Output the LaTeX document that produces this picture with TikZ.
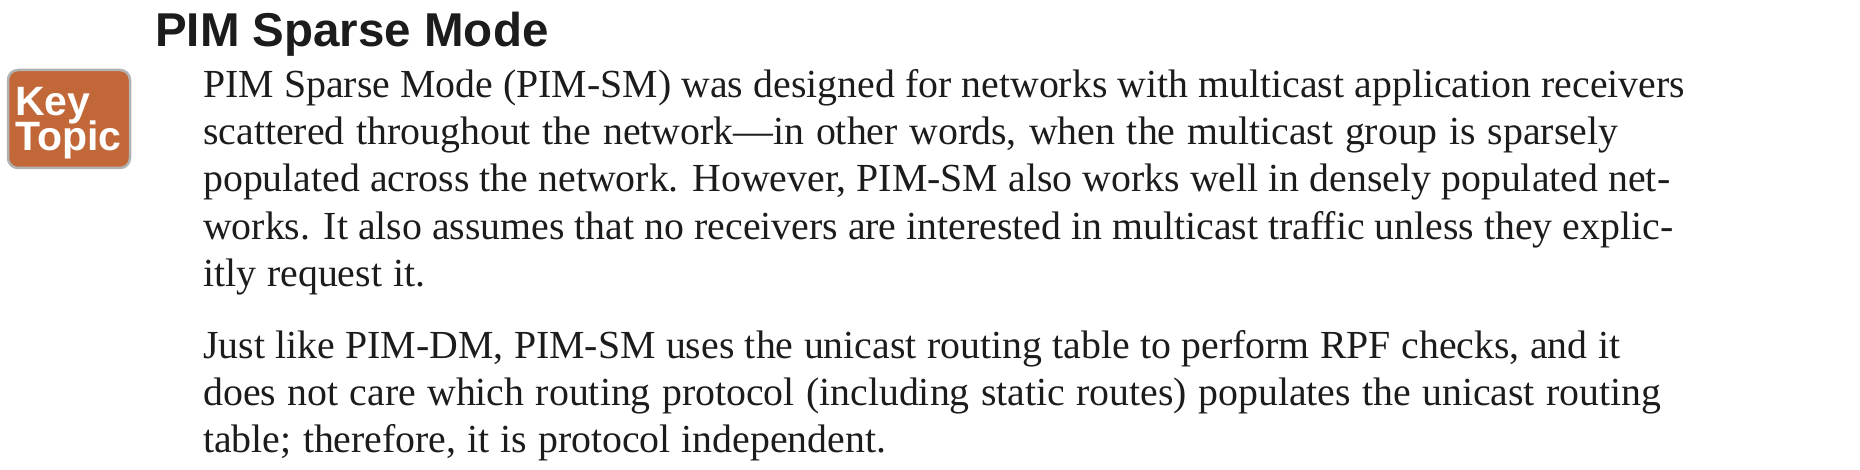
\documentclass[tikz,border=0pt]{standalone}
\usepackage{fontspec}
\setmainfont{Liberation Serif}
\newfontfamily\headfont{Liberation Sans}
\definecolor{keyfill}{RGB}{194,104,56}
\definecolor{inktext}{RGB}{28,28,28}
\newcommand{\fitline}[2]{\makebox[#1pt][s]{#2}}
\begin{document}
\begin{tikzpicture}[x=1pt,y=-1pt,
    line/.style={anchor=base west,inner sep=0pt,text=inktext,font=\fontsize{39.8}{44}\selectfont},
    badge/.style={draw=black!30,line width=2.5pt,rounded corners=10pt,fill=keyfill,minimum width=122pt,minimum height=98pt,inner sep=0pt},
    keyword/.style={anchor=base west,inner sep=0pt,text=white,font=\headfont\bfseries\fontsize{41}{41}\selectfont}
  ]
    \useasboundingbox (0,0) rectangle (1860,470);
    \node[anchor=base west,inner sep=0pt,text=inktext,font=\headfont\bfseries\fontsize{47.5}{50}\selectfont] (head) at (155,47) {PIM Sparse Mode};
    \node[badge] (key) at (69,119) {};
    \node[keyword] (keytext) at (15,116) {Key};
    \node[keyword] (topictext) at (15,151) {Topic};
    \node[line] (a1) at (203,98) {\fitline{1482}{PIM Sparse Mode (PIM-SM) was designed for networks with multicast application receivers}};
    \node[line] (a2) at (203,145) {\fitline{1415}{scattered throughout the network---in other words, when the multicast group is sparsely}};
    \node[line] (a3) at (203,192) {\fitline{1467}{populated across the network. However, PIM-SM also works well in densely populated net-}};
    \node[line] (a4) at (203,240) {\fitline{1470}{works. It also assumes that no receivers are interested in multicast traffic unless they explic-}};
    \node[line] (a5) at (203,287) {\fitline{222}{itly request it.}};
    \node[line] (b1) at (203,358) {\fitline{1417}{Just like PIM-DM, PIM-SM uses the unicast routing table to perform RPF checks, and it}};
    \node[line] (b2) at (203,405) {\fitline{1458}{does not care which routing protocol (including static routes) populates the unicast routing}};
    \node[line] (b3) at (203,452) {\fitline{683}{table; therefore, it is protocol independent.}};
\end{tikzpicture}
\end{document}
